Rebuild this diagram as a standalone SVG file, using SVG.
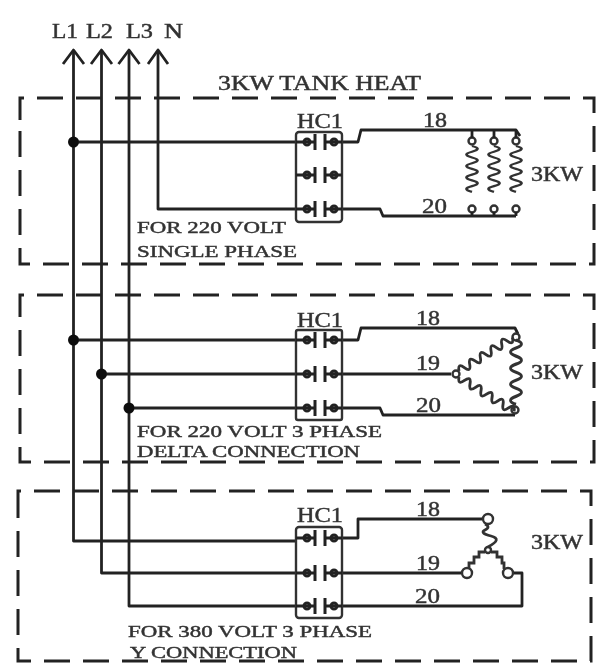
<svg xmlns="http://www.w3.org/2000/svg" xmlns:xlink="http://www.w3.org/1999/xlink" width="605" height="668" viewBox="0 0 605 668">
<style>
.w{fill:none;stroke:#222;stroke-width:2.8;stroke-linejoin:round}
.t{fill:none;stroke:#333;stroke-width:2.4}
.d{fill:none;stroke:#222;stroke-width:3;stroke-dasharray:26 13}
.c{fill:none;stroke:#333;stroke-width:2.8}
.k{fill:none;stroke:#222;stroke-width:3}
text{font-family:"Liberation Serif","Times New Roman",serif;fill:#333;stroke:#333;stroke-width:.45}
.l{font-size:21px}
.s{font-size:17px}
</style>
<defs>
<filter id="b" x="-5%" y="-5%" width="110%" height="110%"><feGaussianBlur stdDeviation="0.75"/></filter>
<g id="contact">
<path class="k" d="M-23 0H-4M-4 -8V8M6 -8V8M6 0H23"/>
<circle class="k" cx="-12" cy="0" r="3"/>
<circle class="k" cx="15" cy="0" r="3"/>
</g>
<path id="coil" class="c" d="M0 0q11 3.500 0 7t0 7t0 7t0 7t0 7t0 7t0 7t0 7"/>
<path id="coil2" class="c" d="M0 0q8 3.150 0 6.300t0 6.300t0 6.300t0 6.300t0 6.300t0 6.300t0 6.300t0 6.300t0 6.300t0 6.300"/>
</defs>
<g filter="url(#b)">
<g id="frames">
<path class="d" d="M20 120V98H594V264H20V120"/>
<path class="d" d="M20 317V295H594V462H20V317"/>
<path class="d" d="M18 514V491H591V661H18V514"/>
</g>
<g id="connectors">
<path class="w" d="M73.500 52V541H297"/>
<path class="w" d="M101.500 52V573H297"/>
<path class="w" d="M129 52V606H297"/>
<path class="w" d="M158 52V209H297"/>
<path class="w" d="M63 64L73.500 50L84 64M91 64L101.500 50L112 64M118.500 64L129 50L139.500 64M148 64L158 50L168 64"/>
<path class="w" d="M73.500 142H297M73.500 340H297M101.500 374H297M129 408H297"/>
<path class="w" d="M343 142H358L361 130H516L520 136M343 209H380L383 216H516"/>
<path class="w" d="M343 340H358L361 328H515L518 334M343 374H451M343 408H380L383 415H515"/>
<path class="w" d="M343 538H358V519H482M343 573H461M343 606H522V573H514"/>
<circle cx="73.500" cy="142" r="5.500" fill="#111"/>
<circle cx="73.500" cy="340" r="5.500" fill="#111"/>
<circle cx="101.500" cy="374" r="5.500" fill="#111"/>
<circle cx="129" cy="408" r="5.500" fill="#111"/>
</g>
<g id="title"><text x="218" y="90" textLength="203" lengthAdjust="spacingAndGlyphs" style="font-size:20px">3KW TANK HEAT</text></g>
<g id="line-labels">
<text class="l" x="52" y="38" textLength="26" lengthAdjust="spacingAndGlyphs">L1</text>
<text class="l" x="86" y="38" textLength="27" lengthAdjust="spacingAndGlyphs">L2</text>
<text class="l" x="126" y="38" textLength="27" lengthAdjust="spacingAndGlyphs">L3</text>
<text class="l" x="164" y="38" textLength="19" lengthAdjust="spacingAndGlyphs">N</text>
</g>
<g id="contactor-1">
<rect class="t" x="296" y="132" width="46" height="90" rx="3"/>
<use xlink:href="#contact" x="319" y="142"/><use xlink:href="#contact" x="319" y="175"/><use xlink:href="#contact" x="319" y="209"/>
<text class="l" x="297" y="128" textLength="46" lengthAdjust="spacingAndGlyphs">HC1</text>
</g>
<g id="heater-1">
<text class="l" x="423" y="127" textLength="24" lengthAdjust="spacingAndGlyphs">18</text>
<text class="l" x="422" y="213" textLength="25" lengthAdjust="spacingAndGlyphs">20</text>
<use xlink:href="#coil" transform="translate(472 146) scale(1 .82)"/>
<use xlink:href="#coil" transform="translate(494 146) scale(1 .82)"/>
<use xlink:href="#coil" transform="translate(516 146) scale(1 .82)"/>
<circle class="t" cx="472" cy="141" r="3.500"/><circle class="t" cx="494" cy="141" r="3.500"/><circle class="t" cx="516" cy="141" r="3.500"/>
<circle class="t" cx="472" cy="209" r="3.500"/><circle class="t" cx="494" cy="209" r="3.500"/><circle class="t" cx="516" cy="209" r="3.500"/>
<path class="w" d="M472 130V138M494 130V138M516 130V138M472 212V216M494 212V216M516 212V216"/>
<text class="l" x="531" y="181" textLength="52" lengthAdjust="spacingAndGlyphs">3KW</text>
</g>
<g id="label-1">
<text class="s" x="137" y="233" textLength="149" lengthAdjust="spacingAndGlyphs">FOR 220 VOLT</text>
<text class="s" x="137" y="257" textLength="160" lengthAdjust="spacingAndGlyphs">SINGLE PHASE</text>
</g>
<g id="contactor-2">
<rect class="t" x="296" y="330" width="46" height="90" rx="2"/>
<use xlink:href="#contact" x="319" y="340"/><use xlink:href="#contact" x="319" y="374"/><use xlink:href="#contact" x="319" y="408"/>
<text class="l" x="297" y="327" textLength="46" lengthAdjust="spacingAndGlyphs">HC1</text>
</g>
<g id="heater-2">
<text class="l" x="416" y="325" textLength="24" lengthAdjust="spacingAndGlyphs">18</text>
<text class="l" x="416" y="370" textLength="24" lengthAdjust="spacingAndGlyphs">19</text>
<text class="l" x="416" y="412" textLength="25" lengthAdjust="spacingAndGlyphs">20</text>
<circle class="t" cx="456" cy="374" r="3.500"/><circle class="t" cx="516" cy="337" r="3.500"/><circle class="t" cx="515" cy="410" r="3.500"/>
<use xlink:href="#coil" transform="translate(516 340) scale(1 1.150)"/>
<use xlink:href="#coil2" transform="translate(459 371) rotate(-122)"/>
<use xlink:href="#coil2" transform="translate(459 377) rotate(-58) scale(-1 1.030)"/>
<text class="l" x="531" y="379" textLength="52" lengthAdjust="spacingAndGlyphs">3KW</text>
</g>
<g id="label-2">
<text class="s" x="137" y="437" textLength="245" lengthAdjust="spacingAndGlyphs">FOR 220 VOLT 3 PHASE</text>
<text class="s" x="137" y="457" textLength="223" lengthAdjust="spacingAndGlyphs">DELTA CONNECTION</text>
</g>
<g id="contactor-3">
<rect class="t" x="296" y="527" width="46" height="91" rx="3"/>
<use xlink:href="#contact" x="319" y="538"/><use xlink:href="#contact" x="319" y="573"/><use xlink:href="#contact" x="319" y="606"/>
<text class="l" x="297" y="522" textLength="46" lengthAdjust="spacingAndGlyphs">HC1</text>
</g>
<g id="heater-3">
<text class="l" x="416" y="516" textLength="24" lengthAdjust="spacingAndGlyphs">18</text>
<text class="l" x="416" y="570" textLength="24" lengthAdjust="spacingAndGlyphs">19</text>
<text class="l" x="415" y="603" textLength="25" lengthAdjust="spacingAndGlyphs">20</text>
<circle class="t" cx="488" cy="519" r="5"/><circle class="t" cx="467" cy="573" r="5"/><circle class="t" cx="508" cy="573" r="5"/>
<circle class="t" cx="488" cy="550" r="3"/>
<path class="c" d="M485 524q6 3 0 6t6 6t-3 11M485 552h-6v5h-5v6h-5v6M491 552h6v5h5v6h2v6"/>
<text class="l" x="531" y="549" textLength="52" lengthAdjust="spacingAndGlyphs">3KW</text>
</g>
<g id="label-3">
<text class="s" x="128" y="637" textLength="244" lengthAdjust="spacingAndGlyphs">FOR 380 VOLT 3 PHASE</text>
<text class="s" x="130" y="658" textLength="167" lengthAdjust="spacingAndGlyphs">Y CONNECTION</text>
</g>
</g>
</svg>
